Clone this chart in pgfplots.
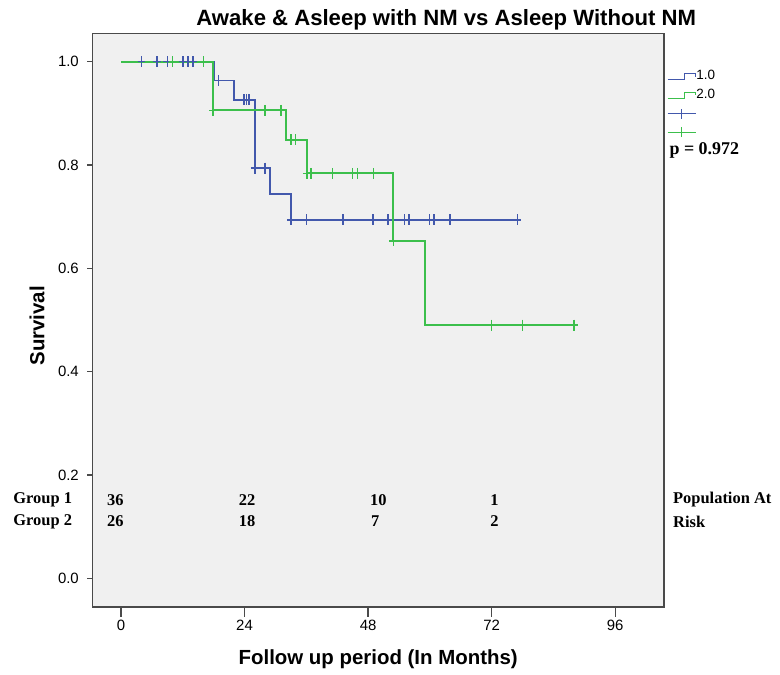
\documentclass[border=0pt]{standalone}
\usepackage{pgfplots}
\pgfplotsset{compat=1.18}
\usepackage{fontspec}
\setmainfont{Liberation Sans}
\newfontfamily\tnr{Liberation Serif}
\definecolor{kmblue}{HTML}{4258AC}
\definecolor{kmgreen}{HTML}{3CBF4C}
\definecolor{panel}{HTML}{F0F0F0}
\definecolor{framegray}{HTML}{4A4A4A}

\newcommand{\risk}{\tnr\bfseries\fontsize{16.5}{18}\selectfont}

\begin{document}
\begin{tikzpicture}
\useasboundingbox (-92.3bp,-68bp) rectangle (687.7bp,607bp);
\begin{axis}[
    at={(0,0)}, anchor=south west,
    scale only axis, width=571.7bp, height=573.7bp,
    xmin=-5.58, xmax=105.5,
    ymin=-0.0556, ymax=1.055,
    axis background/.style={fill=panel},
    axis line style={draw=framegray, line width=1.3bp},
    xtick={0,24,48,72,96},
    ytick={0,0.2,0.4,0.6,0.8,1.0},
    yticklabel style={/pgf/number format/.cd, fixed, fixed zerofill, precision=1},
    tick align=outside, tick pos=left,
    major tick length=10bp,
    ytick style={/pgfplots/major tick length=5bp},
    tick style={draw=framegray, line width=1.2bp},
    tick label style={font=\fontsize{15}{17}\selectfont},
    /pgf/number format/assume math mode=true,
    clip=false,
    legend style={at={(1.0053,0.9404)}, anchor=north west, draw=none, fill=none,
        inner sep=0pt, outer sep=0pt, font=\fontsize{13.5}{15}\selectfont,
        row sep=0pt,
        nodes={inner sep=0pt, text height=12.5bp, text depth=6bp}},
    legend cell align=left,
]

% group 1 curve
\addplot[kmblue, line width=1.6bp, const plot, forget plot] coordinates {
    (0,1) (18.1,0.964) (22,0.926) (26,0.794) (29,0.744) (33,0.694) (77,0.694)};
% group 2 curve
\addplot[kmgreen, line width=1.6bp, const plot, forget plot] coordinates {
    (0,1) (17.9,0.906) (32,0.849) (36.1,0.784) (52.9,0.653) (59.1,0.49) (88,0.49)};

% censored
\addplot[only marks, mark=+, mark size=5.5bp, forget plot,
    mark options={kmblue, line width=1.5bp, xscale=0.7}] coordinates {
    (4,1) (7,1) (9,1) (12,1) (13,1) (14,1) (18.9,0.964)
    (23.9,0.926) (24.4,0.926) (24.9,0.926) (26,0.794) (28,0.794)
    (33,0.694) (36,0.694) (43.1,0.694) (49,0.694) (51.9,0.694) (55.1,0.694)
    (56,0.694) (59.9,0.694) (60.8,0.694) (63.9,0.694) (77,0.694)};
\addplot[only marks, mark=+, mark size=5.5bp, forget plot,
    mark options={kmgreen, line width=1.4bp, xscale=0.7}] coordinates {
    (10,1) (16,1) (17.9,0.906) (28,0.906) (31.1,0.906) (33,0.849) (33.9,0.849)
    (36.1,0.784) (36.9,0.784) (41.1,0.784) (45,0.784) (45.9,0.784) (49,0.784)
    (52.9,0.653) (72,0.49) (78,0.49) (88,0.49)};

\addlegendimage{legend image code/.code={
    \draw[kmblue, line width=1.4bp] (0bp,-3bp) -- (17bp,-3bp) -- (17bp,3bp) -- (28bp,3bp) -- (28bp,0bp);}}
\addlegendentry{1.0}
\addlegendimage{legend image code/.code={
    \draw[kmgreen, line width=1.4bp] (0bp,-3bp) -- (17bp,-3bp) -- (17bp,3bp) -- (28bp,3bp) -- (28bp,0bp);}}
\addlegendentry{2.0}
\addlegendimage{legend image code/.code={
    \draw[kmblue, line width=1.4bp] (0bp,0bp) -- (28bp,0bp) (14bp,-5bp) -- (14bp,5bp);}}
\addlegendentry{}
\addlegendimage{legend image code/.code={
    \draw[kmgreen, line width=1.4bp] (0bp,0bp) -- (28bp,0bp) (14bp,-5bp) -- (14bp,5bp);}}
\addlegendentry{}

\node[anchor=west, font=\tnr\bfseries\fontsize{18}{20}\selectfont] at (axis cs:105.9,0.829) {p = 0.972};

% numbers at risk
\node[anchor=west, font=\risk] at (axis cs:-21.6,0.152) {Group 1};
\node[anchor=west, font=\risk] at (axis cs:-21.6,0.110) {Group 2};
\node[anchor=west, font=\risk] at (axis cs:-3.4,0.152) {36};
\node[anchor=west, font=\risk] at (axis cs:22.2,0.152) {22};
\node[anchor=west, font=\risk] at (axis cs:47.7,0.152) {10};
\node[anchor=west, font=\risk] at (axis cs:71.1,0.152) {1};
\node[anchor=west, font=\risk] at (axis cs:-3.4,0.110) {26};
\node[anchor=west, font=\risk] at (axis cs:22.2,0.110) {18};
\node[anchor=west, font=\risk] at (axis cs:47.9,0.110) {7};
\node[anchor=west, font=\risk] at (axis cs:71.1,0.110) {2};
\node[anchor=west, font=\risk] at (axis cs:106.6,0.152) {Population At};
\node[anchor=west, font=\risk] at (axis cs:106.6,0.110) {Risk};

% titles
\node[font=\bfseries\fontsize{22.2}{25}\selectfont] at (rel axis cs:0.619,1.023)
    {Awake \& Asleep with NM vs Asleep Without NM};
\node[font=\bfseries\fontsize{20.5}{24}\selectfont] at (rel axis cs:0.5,-0.0907)
    {Follow up period (In Months)};
\node[font=\bfseries\fontsize{20.5}{24}\selectfont, rotate=90] at (rel axis cs:-0.0967,0.49)
    {Survival};
\end{axis}
\end{tikzpicture}
\end{document}
